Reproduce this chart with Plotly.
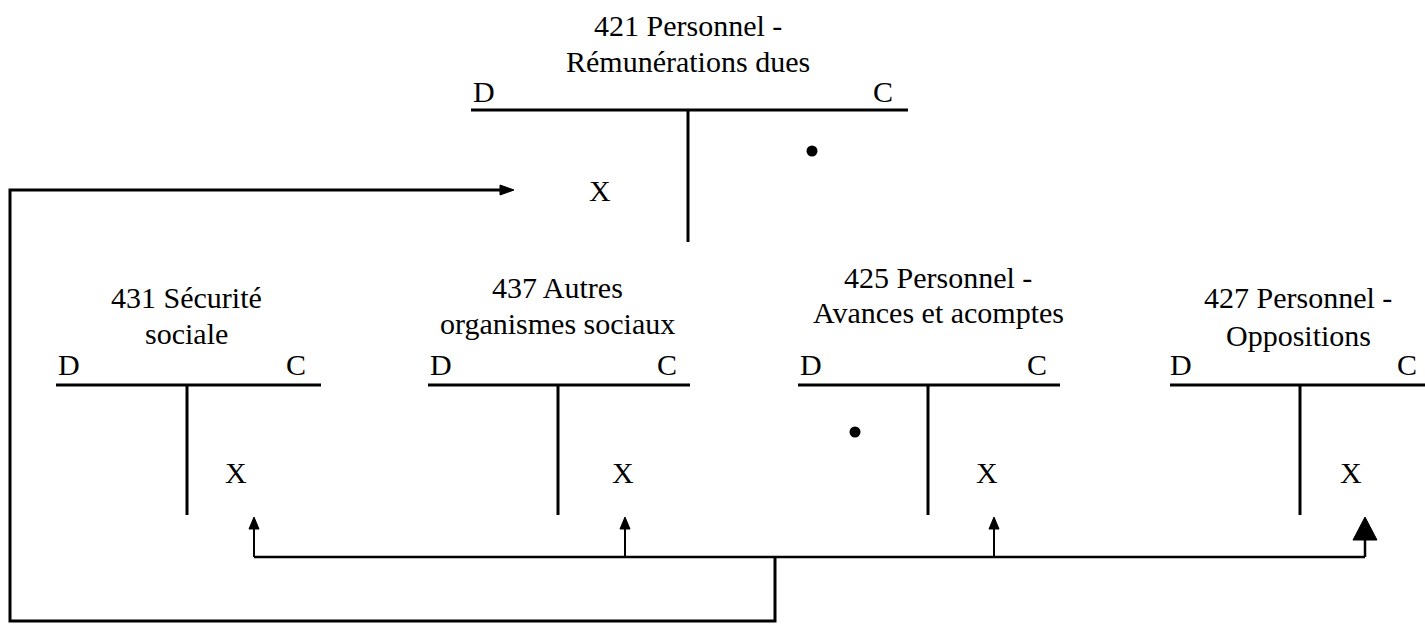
import plotly.graph_objects as go

# ---- data (diagram content) ----
account_title1 = ["421 Personnel -", "431 Sécurité", "437 Autres", "425 Personnel -", "427 Personnel -"]
account_title2 = ["Rémunérations dues", "sociale", "organismes sociaux", "Avances et acomptes", "Oppositions"]
debit_label = ["D", "D", "D", "D", "D"]
credit_label = ["C", "C", "C", "C", "C"]
entry_label = ["X", "X", "X", "X", "X"]

# ---- geometry (pixel layout) ----
W, H = 1425, 624
T_left = [471, 56, 428, 798, 1170]
T_right = [908, 321, 690, 1060, 1425]
T_stem = [688, 187, 558, 928, 1300]
T_top = [110, 385, 385, 385, 385]
T_bottom = [242, 515, 515, 515, 515]
title_cx = [688, 186, 557, 938, 1298]
title_y1 = [25, 297, 287, 277, 297]
title_y2 = [61, 333, 323, 312, 335]
dc_y = [91, 364, 364, 364, 364]
d_x = [484, 69, 441, 811, 1181]
c_x = [883, 296, 667, 1037, 1407]
x_pos = [(600, 190), (236, 472), (623, 472), (987, 472), (1351, 472)]
dot_pos = [(812, 151), (855, 432)]
arrow_x = [254, 625, 994, 1365]
arrow_tip_y = 517
bus_y = 557
junction_x = 775
loop_bottom = 621
loop_left = 10
loop_y = 190
loop_tip_x = 514

fig = go.Figure()
shapes = []
line_blk = dict(color="black", width=3)
for i in range(5):
    shapes.append(dict(type="line", x0=T_left[i], x1=T_right[i], y0=T_top[i], y1=T_top[i], line=line_blk))
    shapes.append(dict(type="line", x0=T_stem[i], x1=T_stem[i], y0=T_top[i], y1=T_bottom[i], line=line_blk))

# big loop from bus to 421 debit
loop_path = f"M {junction_x} {bus_y} L {junction_x} {loop_bottom} L {loop_left} {loop_bottom} L {loop_left} {loop_y} L {loop_tip_x-10} {loop_y}"
shapes.append(dict(type="path", path=loop_path, line=dict(color="black", width=3)))
shapes.append(dict(type="path", path=f"M {loop_tip_x} {loop_y} L {loop_tip_x-14} {loop_y-5} L {loop_tip_x-14} {loop_y+5} Z",
                   fillcolor="black", line=dict(color="black", width=1)))

# bus line
shapes.append(dict(type="line", x0=arrow_x[0], x1=arrow_x[-1], y0=bus_y, y1=bus_y, line=dict(color="black", width=2.5)))
for j, ax in enumerate(arrow_x):
    big = (j == len(arrow_x) - 1)
    hh = 23 if big else 12
    hw = 12 if big else 5
    shapes.append(dict(type="line", x0=ax, x1=ax, y0=bus_y, y1=arrow_tip_y + hh - 1, line=dict(color="black", width=2.5 if big else 2)))
    shapes.append(dict(type="path", path=f"M {ax} {arrow_tip_y} L {ax-hw} {arrow_tip_y+hh} L {ax+hw} {arrow_tip_y+hh} Z",
                       fillcolor="black", line=dict(color="black", width=1)))

ann = []
font = dict(family="Liberation Serif", size=30, color="black")
for i in range(5):
    ann.append(dict(x=title_cx[i], y=title_y1[i], text=account_title1[i], showarrow=False, font=font, xanchor="center", yanchor="middle"))
    ann.append(dict(x=title_cx[i], y=title_y2[i], text=account_title2[i], showarrow=False, font=font, xanchor="center", yanchor="middle"))
    ann.append(dict(x=d_x[i], y=dc_y[i], text=debit_label[i], showarrow=False, font=font, xanchor="center", yanchor="middle"))
    ann.append(dict(x=c_x[i], y=dc_y[i], text=credit_label[i], showarrow=False, font=font, xanchor="center", yanchor="middle"))
    ann.append(dict(x=x_pos[i][0], y=x_pos[i][1], text=entry_label[i], showarrow=False, font=font, xanchor="center", yanchor="middle"))

fig.add_trace(go.Scatter(x=[p[0] for p in dot_pos], y=[p[1] for p in dot_pos], mode="markers",
                         marker=dict(color="black", size=11), hoverinfo="skip", showlegend=False))

fig.update_layout(
    width=W, height=H, margin=dict(l=0, r=0, t=0, b=0),
    paper_bgcolor="white", plot_bgcolor="white",
    shapes=shapes, annotations=ann, showlegend=False,
    xaxis=dict(range=[0, W], visible=False, fixedrange=True),
    yaxis=dict(range=[H, 0], visible=False, fixedrange=True),
)
fig.write_html("out.html", config={"displayModeBar": False},
               post_script="document.body.style.margin='0';document.body.style.overflow='hidden';")
